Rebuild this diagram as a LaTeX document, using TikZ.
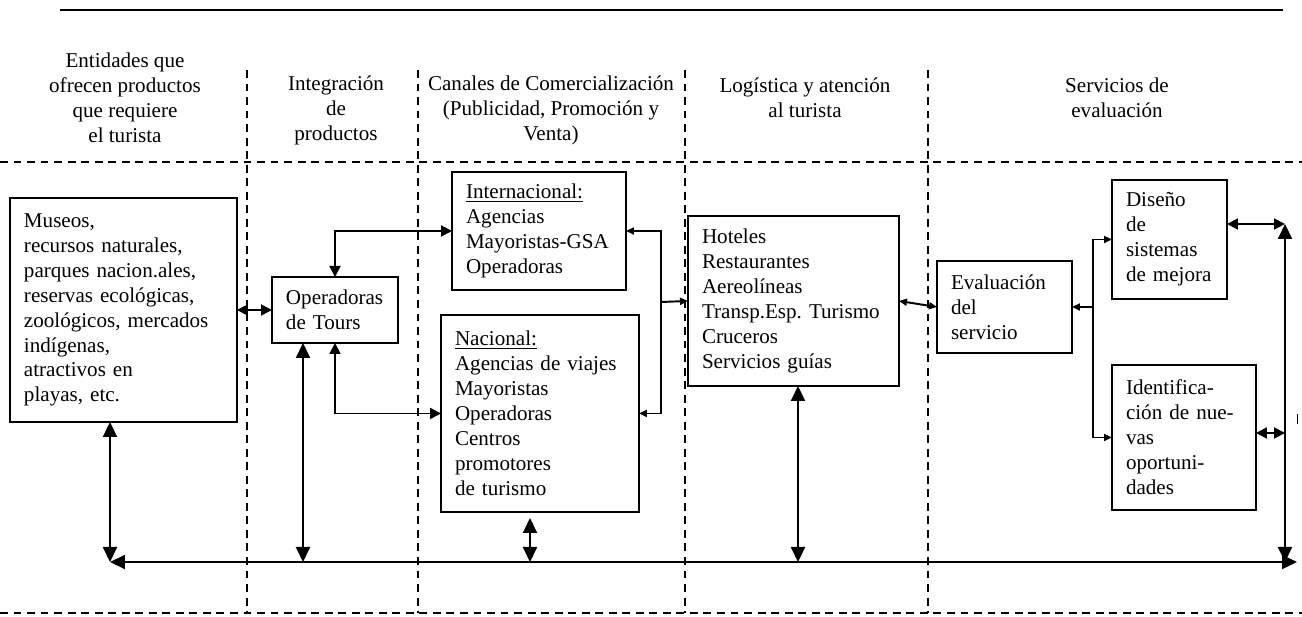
\documentclass[tikz,border=0pt]{standalone}
\usepackage{fontspec}
\setmainfont{Liberation Serif}
\usetikzlibrary{arrows.meta,calc}
\frenchspacing
\begin{document}
\begin{tikzpicture}[x=0.02cm,y=-0.02cm,
  txt/.style={font=\fontsize{12}{14.2}\selectfont\frenchspacing},
  hdr/.style={txt,align=center,inner sep=0pt},
  bx/.style={draw,line width=0.85pt,txt,align=left,anchor=north west,inner xsep=0.28cm,inner ysep=0pt,outer sep=0pt},
  conn/.style={line width=1.1pt},
  big/.style={conn,{Triangle[length=0.3cm,width=0.28cm]}-{Triangle[length=0.3cm,width=0.28cm]}},
  med/.style={conn,{Triangle[length=0.22cm,width=0.22cm]}-{Triangle[length=0.22cm,width=0.22cm]}},
  sml/.style={conn,{Triangle[length=0.16cm,width=0.14cm]}-{Triangle[length=0.16cm,width=0.14cm]}},
  smlr/.style={conn,-{Triangle[length=0.16cm,width=0.14cm]}},
  smll/.style={conn,{Triangle[length=0.16cm,width=0.14cm]}-},
  dsh/.style={line width=1pt,dash pattern=on 4.5pt off 3.2pt}]
\useasboundingbox (0,0) rectangle (1302,617);

% rules and dashed grid
\draw[line width=1.2pt] (60,10) coordinate (tl) -- (1283,10) coordinate (tr);
\draw[dsh] (0,162) -- (1302,162);
\draw[dsh] (0,613) -- (1302,613);
\foreach \xx in {247,418,685,928}{\draw[dsh] (\xx,70) -- (\xx,613);}

% headers
\node[hdr] (h1) at (125,98) {Entidades que\\ofrecen productos\\que requiere\\el turista};
\node[hdr] (h2) at (336,110) {Integración\\de\\productos};
\node[hdr] (h3) at (551,110) {Canales de Comercialización\\(Publicidad, Promoción y\\Venta)};
\node[hdr] (h4) at (805,98) {Logística y atención\\al turista};
\node[hdr] (h5) at (1117,98) {Servicios de\\evaluación};

% boxes
\node[bx,minimum width=4.54cm,minimum height=4.48cm,text width=3.98cm] (mus) at (10,198)
 {Museos,\\recursos naturales,\\parques nacion.ales,\\reservas ecológicas,\\zoológicos, mercados\\indígenas,\\atractivos en\\playas, etc.};
\node[bx,minimum width=2.52cm,minimum height=1.32cm,text width=1.96cm,inner xsep=0.26cm] (op) at (272,277)
 {Operadoras\\de Tours};
\node[bx,minimum width=3.48cm,minimum height=2.36cm,text width=2.92cm] (int) at (452,172)
 {\underline{Internacional:}\\Agencias\\Mayoristas-GSA\\Operadoras};
\node[bx,minimum width=3.96cm,minimum height=3.94cm,text width=3.40cm] (nac) at (441,315)
 {\underline{Nacional:}\\Agencias de viajes\\Mayoristas\\Operadoras\\Centros\\promotores\\de turismo};
\node[bx,minimum width=4.22cm,minimum height=3.40cm,text width=3.66cm] (hot) at (688,216)
 {Hoteles\\Restaurantes\\Aereolíneas\\Transp.Esp. Turismo\\Cruceros\\Servicios guías};
\node[bx,minimum width=2.70cm,minimum height=1.84cm,text width=2.14cm] (ev) at (937,261)
 {Evaluación\\del\\servicio};
\node[bx,minimum width=2.30cm,minimum height=2.38cm,text width=1.74cm] (dis) at (1112,180)
 {Diseño\\de\\sistemas\\de mejora};
\node[bx,minimum width=2.88cm,minimum height=2.90cm,text width=2.32cm] (ide) at (1112,365)
 {Identifica-\\ción de nue-\\vas\\oportuni-\\dades};

% coordinates
\coordinate (ml) at (110,562);
\coordinate (mr) at (1297,562);
\coordinate (ov) at (303,562);
\coordinate (hv) at (798,562);
\coordinate (nt) at (530,518);
\coordinate (nv) at (530,562);
\coordinate (j1) at (661,302);
\coordinate (b) at (1093,307);
\coordinate (rt) at (1285,224);
\coordinate (rm) at (1285,433);
\coordinate (rb) at (1285,562);

% connectors
\draw[med] (mus.east) -- (op.west);
\draw[med] (op.north) |- (int.west);
\draw[med] (op.south) |- (nac.west);
\draw[smll] (int.east) -| (j1);
\draw[smlr] (j1) -- (hot.west);
\draw[smll] (nac.east) -| (j1);
\draw[sml] (hot.east) -- (ev.west);
\draw[smll] (ev.east) -- (b);
\draw[smlr] (b) |- (dis.west);
\draw[smlr] (b) |- (ide.west);
\draw[med] (dis.east |- rt) -- (rt);
\draw[med] (ide.east |- rm) -- (rm);
\draw[big] (rt) -- (rb);
\draw[big] (ml) -- (mr);
\draw[big] (ml |- mus.south) -- (ml);
\draw[big] (ov |- op.south) -- (ov);
\draw[big] (nt) -- (nv);
\draw[big] (hv |- hot.south) -- (hv);
\draw[line width=0.5pt] (1297,414) -- (1297,424);
\end{tikzpicture}
\end{document}
